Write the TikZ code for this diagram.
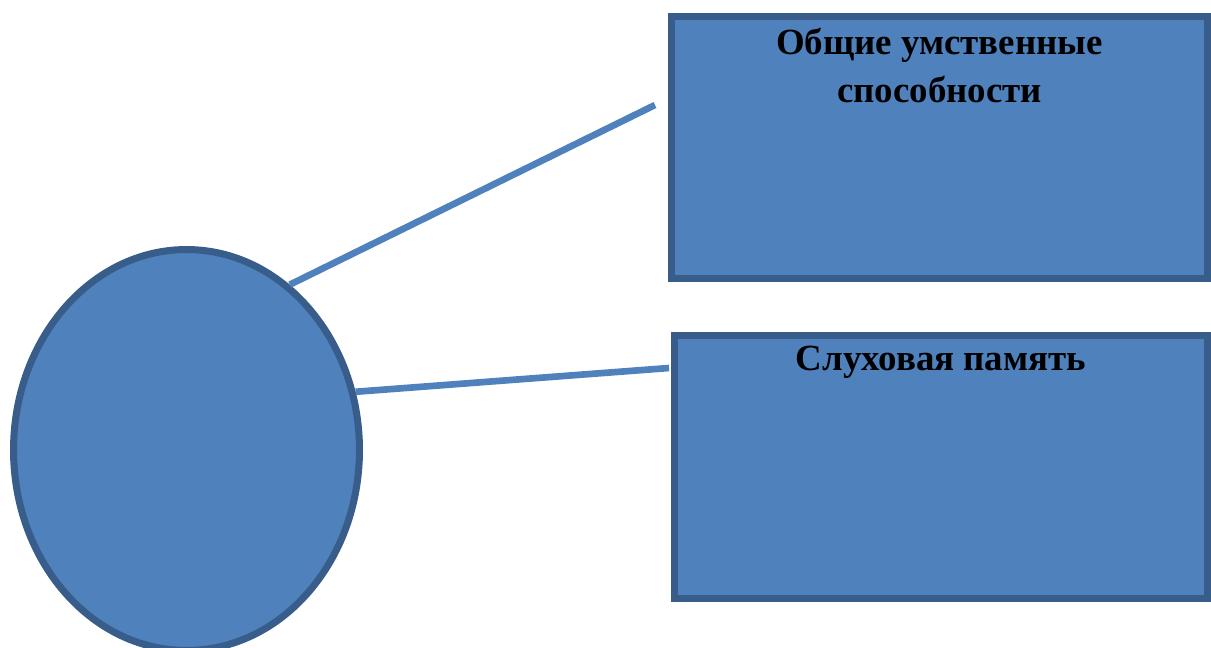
\documentclass[tikz,border=0pt]{standalone}
\usepackage{fontspec}
\setmainfont{Liberation Serif}
\usetikzlibrary{positioning,shapes}
\definecolor{boxfill}{HTML}{4F81BD}
\definecolor{boxline}{HTML}{385D8A}
\tikzstyle{card}=[rectangle,draw=boxline,fill=boxfill,line width=4pt,inner sep=0pt]
\tikzstyle{mind}=[ellipse,draw=boxline,fill=boxfill,line width=4pt,inner sep=0pt,
  minimum width=6.92cm,minimum height=8.02cm]
\tikzstyle{title}=[font=\fontsize{21}{27}\selectfont\bfseries,align=center,inner sep=0pt]
\tikzstyle{spoke}=[draw=boxfill,line width=3.8pt]

\begin{document}
\begin{tikzpicture}[x=0.02cm,y=-0.02cm]
  \useasboundingbox (0,0) rectangle (1211,647);
  \node[card,minimum width=10.72cm,minimum height=5.24cm] (general) at (939.5,147.5) {};
  \node[card,minimum width=10.66cm,minimum height=5.26cm] (hearing) at (941,467) {};
  \node[mind] (head) at (186.5,450) {};
  \coordinate (generalend) at (655,105);
  \coordinate (hearingend) at (669,368);
  \draw[spoke] (head.58) -- (generalend);
  \draw[spoke] (head.19) -- (hearingend);
  \node[title,below=0.3cm of general.north] (generaltext) {Общие умственные\\способности};
  \node[title,below=0.28cm of hearing.north] (hearingtext) {Слуховая память};
\end{tikzpicture}
\end{document}
